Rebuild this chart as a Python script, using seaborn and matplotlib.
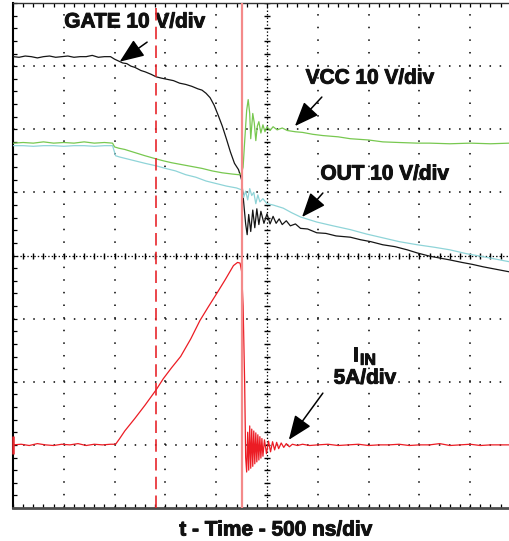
import numpy as np
import pandas as pd
import seaborn as sns
import matplotlib
matplotlib.use('Agg')
from matplotlib import pyplot as plt
import matplotlib.patheffects as pe

# scope capture: time in ns (500 ns/div), traces in screen divisions
gate_t = [0, 60, 120, 180, 240, 300, 360, 420, 480, 540, 600, 660, 720, 780, 840, 900, 960,
          1000, 1040, 1080, 1120, 1160, 1200, 1260, 1300, 1360, 1410, 1460, 1520, 1580, 1640,
          1700, 1760, 1820, 1860, 1900, 1940, 1980, 2020, 2060, 2100, 2140, 2180, 2220, 2250,
          2270, 2290, 2305, 2320, 2340, 2360, 2380, 2400, 2420, 2440, 2470, 2500, 2530, 2560,
          2590, 2620, 2650, 2690, 2730, 2780, 2830, 2900, 2990, 3080, 3180, 3320, 3420, 3520,
          3640, 3760, 3880, 3980, 4100, 4200, 4300, 4420, 4520, 4630, 4760, 4890]
gate_v = [7.15, 7.14, 7.16, 7.15, 7.13, 7.15, 7.16, 7.14, 7.15, 7.16, 7.14, 7.15, 7.15, 7.17, 7.14, 7.15, 7.15,
          7.11, 7.08, 7.05, 7.04, 7.00, 6.98, 6.93, 6.91, 6.87, 6.83, 6.81, 6.79, 6.77, 6.73,
          6.71, 6.68, 6.64, 6.62, 6.57, 6.50, 6.38, 6.22, 6.05, 5.85, 5.64, 5.46, 5.36, 5.20,
          4.85, 4.50, 4.33, 4.65, 4.38, 4.72, 4.44, 4.74, 4.49, 4.70, 4.51, 4.66, 4.50, 4.62,
          4.51, 4.58, 4.49, 4.55, 4.47, 4.50, 4.43, 4.42, 4.36, 4.35, 4.31, 4.29, 4.25, 4.22,
          4.17, 4.14, 4.09, 4.04, 3.99, 3.96, 3.93, 3.89, 3.86, 3.82, 3.78, 3.74]

vcc_t = [0, 100, 200, 300, 400, 500, 600, 700, 800, 900, 980, 1000, 1040, 1100, 1160, 1220,
         1300, 1410, 1480, 1560, 1660, 1760, 1860, 1960, 2060, 2160, 2220, 2250, 2265, 2280,
         2300, 2315, 2330, 2340, 2350, 2360, 2375, 2390, 2405, 2420, 2440, 2460, 2480, 2500,
         2530, 2560, 2600, 2650, 2700, 2780, 2850, 2950, 3050, 3200, 3320, 3500, 3640, 3800,
         3980, 4100, 4300, 4500, 4700, 4890]
vcc_v = [5.78, 5.79, 5.78, 5.80, 5.78, 5.79, 5.78, 5.80, 5.78, 5.79, 5.78, 5.72, 5.70, 5.68, 5.65, 5.62,
         5.58, 5.53, 5.50, 5.47, 5.44, 5.41, 5.38, 5.34, 5.31, 5.29, 5.28, 5.31, 5.40, 5.80,
         6.30, 6.47, 6.25, 5.85, 6.05, 6.25, 6.10, 5.82, 6.05, 6.12, 5.94, 6.07, 5.96, 6.04,
         5.98, 6.04, 5.99, 6.02, 5.98, 5.96, 5.95, 5.92, 5.90, 5.88, 5.85, 5.83, 5.80, 5.79,
         5.78, 5.78, 5.77, 5.78, 5.77, 5.78]

out_t = [0, 100, 200, 300, 400, 500, 600, 700, 800, 900, 980, 1010, 1050, 1100, 1200, 1300,
         1410, 1500, 1600, 1700, 1800, 1900, 2000, 2100, 2200, 2250, 2270, 2290, 2310, 2330,
         2350, 2370, 2390, 2410, 2430, 2460, 2500, 2560, 2660, 2740, 2830, 2990, 3150, 3320,
         3480, 3640, 3800, 3980, 4150, 4300, 4460, 4630, 4760, 4890]
out_v = [5.74, 5.74, 5.73, 5.74, 5.74, 5.73, 5.74, 5.74, 5.73, 5.74, 5.74, 5.58, 5.56, 5.54, 5.50, 5.46,
         5.42, 5.38, 5.34, 5.28, 5.24, 5.18, 5.14, 5.10, 5.07, 5.04, 4.92, 5.02, 4.88, 5.06,
         4.95, 5.00, 4.82, 4.96, 4.85, 4.90, 4.82, 4.80, 4.75, 4.68, 4.61, 4.53, 4.47, 4.41,
         4.34, 4.28, 4.22, 4.17, 4.13, 4.09, 4.03, 3.98, 3.94, 3.90]

iin_t = [0, 80, 160, 240, 320, 400, 480, 560, 640, 720, 800, 880, 960, 1010, 1050, 1100, 1200,
         1300, 1408, 1480, 1560, 1650, 1750, 1840, 1920, 2010, 2090, 2170, 2210, 2235, 2250,
         2265, 2280, 2290, 2300, 2310, 2320, 2330, 2340, 2350, 2360, 2370, 2380, 2390, 2400,
         2410, 2420, 2430, 2440, 2450, 2460, 2475, 2495, 2515, 2535, 2555, 2575, 2595, 2615,
         2640, 2665, 2690, 2720, 2750, 2800, 2850, 2920, 3000, 3100, 3200, 3300, 3400, 3500,
         3600, 3700, 3800, 3900, 4000, 4100, 4200, 4300, 4400, 4500, 4600, 4700, 4800, 4890]
iin_v = [1.00, 1.01, 0.99, 1.02, 1.00, 0.99, 1.01, 1.00, 1.02, 0.99, 1.01, 1.00, 1.01, 1.01, 1.10, 1.22, 1.42,
         1.63, 1.87, 2.05, 2.22, 2.40, 2.68, 2.97, 3.18, 3.41, 3.62, 3.84, 3.89, 3.88, 3.75,
         3.20, 2.00, 0.80, 0.57, 1.20, 0.60, 1.30, 0.63, 1.25, 0.66, 1.22, 0.70, 1.19, 0.73,
         1.16, 0.76, 1.13, 0.79, 1.10, 0.82, 1.08, 0.86, 1.06, 0.89, 1.05, 0.92, 1.04, 0.94,
         1.03, 0.96, 1.02, 0.97, 1.01, 0.99, 1.01, 0.99, 1.00, 1.01, 0.99, 1.00, 1.01, 0.99,
         1.00, 1.00, 1.01, 0.99, 1.00, 1.00, 1.02, 0.99, 1.00, 1.01, 0.99, 1.00, 1.00, 1.00]

cursor_dashed = 1410
cursor_solid = 2255

sns.set_style('white')
plt.rcParams['font.family'] = ['Liberation Sans', 'DejaVu Sans']
plt.rcParams['lines.scale_dashes'] = False

fig = plt.figure(figsize=(5.10, 5.41), dpi=100)
ax = fig.add_axes([13/510, 33/541, 497/510, 505/541])
ax.set_xlim(0, 4892)
ax.set_ylim(0, 8)

# graticule
for xv in np.arange(500, 4892, 500):
    if xv == 2500:
        continue
    ax.axvline(xv, color='black', lw=1.1, linestyle=(0, (1.1, 7.99)), zorder=1)
for yv in range(1, 8):
    if yv == 4:
        continue
    ax.axhline(yv, color='black', lw=1.1, linestyle=(0, (1.1, 6.2)), zorder=1)
ax.axvline(2500, color='black', lw=0.9, linestyle=(0, (1, 1.5)), zorder=1)
ax.axhline(4, color='black', lw=0.9, linestyle=(0, (1, 1.5)), zorder=1)
minor_y = np.arange(0, 8.01, 0.2)
minor_x = np.arange(0, 4892, 100)
ax.plot(np.full(len(minor_y), 2500), minor_y, ls='none', marker='_', ms=5, mew=1, color='black', zorder=1)
ax.plot(minor_x, np.full(len(minor_x), 4), ls='none', marker='|', ms=5, mew=1, color='black', zorder=1)

# traces
traces = [(gate_t, gate_v, '#151515'), (out_t, out_v, '#8fd4d8'),
          (vcc_t, vcc_v, '#78c850'), (iin_t, iin_v, '#ec1c24')]
for t, v, c in traces:
    df = pd.DataFrame({'t': t, 'v': v})
    sns.lineplot(data=df, x='t', y='v', ax=ax, color=c, lw=0.9, estimator=None, sort=False, zorder=3)

# cursors
ax.axvline(cursor_dashed, color='#e8262c', lw=1.2, linestyle=(0, (9, 4.5)), zorder=4)
ax.axvline(cursor_solid, color='#f48a8a', lw=1.6, zorder=4)
ax.plot([0], [iin_v[0]], marker='|', ms=13, mew=1.8, color='#e8262c', clip_on=False, zorder=5)

# labels and arrows
heavy = [pe.withStroke(linewidth=0.7, foreground='#111111')]
bold = dict(fontsize=15, fontweight='bold', color='#111111', path_effects=heavy)
arrow = dict(arrowstyle='-|>,head_length=0.75,head_width=0.3', mutation_scale=20,
             lw=1.1, color='black', shrinkA=0, shrinkB=0)
ax.text(1200, 7.70, 'GATE 10 V/div', ha='center', va='center', **bold)
ax.annotate('', xy=(1050, 7.07), xytext=(1320, 7.38), arrowprops=arrow)
ax.text(3515, 6.81, 'VCC 10 V/div', ha='center', va='center', **bold)
ax.annotate('', xy=(2775, 6.05), xytext=(3040, 6.51), arrowprops=arrow)
ax.text(3660, 5.29, 'OUT 10 V/div', ha='center', va='center', **bold)
ax.annotate('', xy=(2845, 4.61), xytext=(3050, 4.99), arrowprops=arrow)
ax.text(3345, 2.33, 'I', ha='left', va='baseline', **bold)
ax.text(3415, 2.27, 'IN', ha='left', va='baseline', fontsize=11.5, fontweight='bold',
        color='#111111', path_effects=heavy)
ax.text(3465, 1.97, '5A/div', ha='center', va='baseline', **bold)
ax.annotate('', xy=(2715, 1.08), xytext=(3050, 1.82), arrowprops=arrow)

fig.text(276/510, 1 - 530/541, 't - Time - 500 ns/div', ha='center', va='center', **bold)

# frame
ax.set_xticks(np.arange(0, 4892, 500))
ax.set_xticks(np.arange(0, 4892, 100), minor=True)
ax.set_yticks(range(0, 9))
ax.set_yticks(np.arange(0, 8.01, 0.2), minor=True)
ax.tick_params(which='both', direction='in', length=3, width=0.9, color='black',
               top=True, bottom=True, left=True, right=False,
               labelbottom=False, labelleft=False)
ax.set_xlabel('')
ax.set_ylabel('')
ax.spines['right'].set_visible(False)
ax.spines['left'].set_linewidth(1.5)
ax.spines['left'].set_color('black')
ax.spines['top'].set_linewidth(1.0)
ax.spines['top'].set_color('#333333')
ax.spines['bottom'].set_linewidth(2.0)
ax.spines['bottom'].set_color('#4d4d4d')

fig.savefig('out.png', dpi=100)
